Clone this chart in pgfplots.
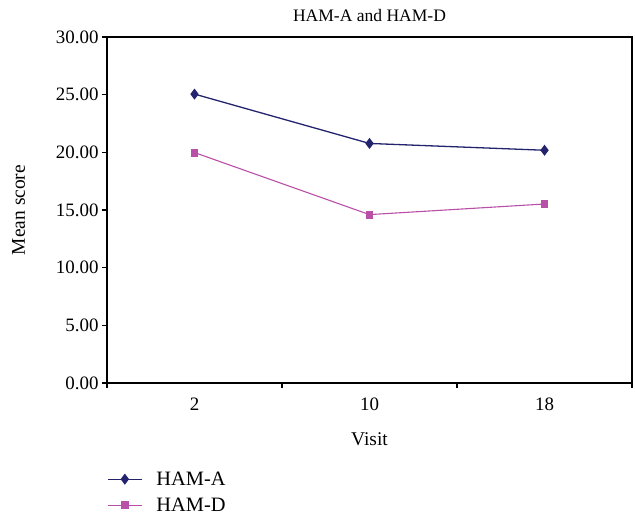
\documentclass[border=0pt]{standalone}
\usepackage{pgfplots}
\pgfplotsset{compat=1.18}
\usepackage{fontspec}
\setmainfont{Liberation Serif}
\definecolor{hama}{RGB}{36,36,110}
\definecolor{hamd}{RGB}{184,80,168}
\begin{document}
\begin{tikzpicture}
\path[use as bounding box] (0,0) rectangle (635bp,515bp);
\begin{axis}[
  at={(107bp,132bp)}, anchor=south west,
  scale only axis, width=525bp, height=346bp,
  xmin=-0.5, xmax=2.5, ymin=0, ymax=30,
  xtick={0,1,2}, xticklabels={2,10,18},
  major x tick style={draw=none},
  minor xtick={-0.5,0.5,1.5,2.5},
  ytick={0,5,10,15,20,25,30},
  tick align=outside, major tick length=5bp, minor tick length=5bp,
  xtick pos=bottom, ytick pos=left,
  yticklabel style={/pgf/number format/.cd, fixed, fixed zerofill, precision=2, /tikz/.cd},
  xticklabel style={yshift=-6bp},
  /pgf/number format/assume math mode=true,
  axis line style={line width=1.2bp},
  tick style={line width=1.1bp, black},
  ticklabel style={font=\fontsize{19}{22}\selectfont},
  title={HAM-A and HAM-D},
  title style={yshift=6bp, font=\fontsize{17.6}{20}\selectfont},
  xlabel={Visit}, ylabel={Mean score},
  label style={font=\fontsize{19.5}{22}\selectfont},
  xlabel style={yshift=-16bp},
  ylabel style={yshift=24bp},
  legend style={draw=none, fill=none, at={(0,-0.25)}, anchor=north west,
    inner sep=0pt, row sep=7bp, font=\fontsize{20.5}{23}\selectfont,
    /tikz/every even column/.append style={column sep=0bp}},
  legend cell align=left,
  legend image code/.code={\draw[mark repeat=2,mark phase=2,#1] plot coordinates {(0bp,0bp)(17bp,0bp)(34bp,0bp)}; \path (46bp,0bp);},
]
\addplot[color=hama, line width=1.3bp, mark=diamond*, mark size=4.5bp, mark options={fill=hama}] coordinates {(0,25.05) (1,20.77) (2,20.18)};
\addlegendentry{HAM-A}
\addplot[color=hamd, line width=1.1bp, mark=square*, mark size=3.4bp, mark options={fill=hamd}] coordinates {(0,19.98) (1,14.6) (2,15.52)};
\addlegendentry{HAM-D}
\end{axis}
\end{tikzpicture}
\end{document}
